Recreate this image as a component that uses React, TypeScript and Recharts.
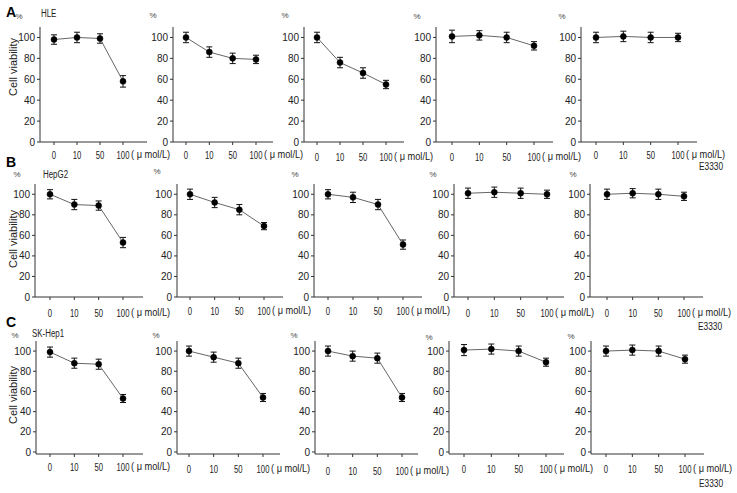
import React from 'react';
import { LineChart, Line, XAxis, YAxis, ErrorBar } from 'recharts';

// ---------- data ----------
const doses = ['0', '10', '50', '100'];
const unitLabel = '( \u03bc mol/L)';
const rowNames = ['HLE', 'HepG2', 'SK-Hep1'];
const panelLetters = ['A', 'B', 'C'];
const drugLabel = 'E3330';
const yAxisTitle = 'Cell viability';
const pctLabel = '%';
const yTicks = [0, 20, 40, 60, 80, 100];
const xTickIdx = [0, 1, 2, 3];

// HLE
const hle1 = [98, 100, 99, 58];
const hle1Err = [4.5, 5, 4.5, 5.5];
const hle2 = [100, 86, 80, 79];
const hle2Err = [5, 5, 5, 4];
const hle3 = [100, 76, 66, 55];
const hle3Err = [5, 5, 5, 4];
const hle4 = [101, 102, 100, 92];
const hle4Err = [6, 4.5, 5, 4];
const hle5 = [100, 101, 100, 100];
const hle5Err = [5, 5, 5, 4];
// HepG2
const hep1 = [100, 90, 89, 53];
const hep1Err = [4.5, 5, 4.5, 5];
const hep2 = [100, 92, 85, 69];
const hep2Err = [5, 5, 5, 3.5];
const hep3 = [100, 97, 90, 51];
const hep3Err = [4.5, 5, 5, 4.5];
const hep4 = [101, 102, 101, 100];
const hep4Err = [5, 5, 5, 4];
const hep5 = [100, 101, 100, 98];
const hep5Err = [5, 4.5, 5, 4];
// SK-Hep1
const sk1 = [99, 88, 87, 53];
const sk1Err = [5, 5, 5, 4];
const sk2 = [100, 94, 88, 54];
const sk2Err = [5, 5, 5, 4];
const sk3 = [100, 95, 93, 54];
const sk3Err = [5, 5, 5, 4];
const sk4 = [101, 102, 100, 89];
const sk4Err = [5.5, 5, 5, 4];
const sk5 = [100, 101, 100, 92];
const sk5Err = [5, 5, 5, 4];

const seriesRows = [
  [[hle1, hle1Err], [hle2, hle2Err], [hle3, hle3Err], [hle4, hle4Err], [hle5, hle5Err]],
  [[hep1, hep1Err], [hep2, hep2Err], [hep3, hep3Err], [hep4, hep4Err], [hep5, hep5Err]],
  [[sk1, sk1Err], [sk2, sk2Err], [sk3, sk3Err], [sk4, sk4Err], [sk5, sk5Err]],
];

// ---------- layout (page pixels) ----------
const rowLayout = [
  { yTop: 27, yAxis: 142, yMin: 0 },
  { yTop: 184, yAxis: 297, yMin: 0 },
  { yTop: 341, yAxis: 454, yMin: -2 },
];
// [axisX, axisEnd, firstTick, lastTick, labelGap]
const colLayout = [
  [[40, 147, 54, 123, 13], [173, 273, 186, 256, 13], [304, 404, 317, 386, 15], [436, 553, 452, 534, 15], [581, 697, 596, 678, 13]],
  [[35, 143, 50, 123, 16], [177, 283, 190, 264, 14], [314, 422, 328, 403, 14], [454, 564, 468, 547, 16], [590, 703, 607, 684, 16]],
  [[36, 143, 50, 123, 13], [177, 280, 189, 263, 15], [315, 418, 328, 402, 17], [449, 564, 464, 546, 15], [591, 704, 606, 685, 15]],
];
const pctPos = [
  [[19, 16], [153, 15], [285, 15], [417, 16], [562, 16]],
  [[17, 174], [157, 171], [295, 174], [433, 174], [573, 174]],
  [[15, 335], [156, 335], [294, 335], [429, 337], [571, 336]],
];
const letterPos = [[6, 17], [6, 167], [6, 327]];
const namePos = [[41, 17], [43, 178], [32, 337]];
const titlePos = [[13, 67], [13, 239], [13, 395]];
const drugPos = [[711, 170], [710, 330], [711, 487]];

const FONT = "'Liberation Sans', Arial, Helvetica, sans-serif";

function XTick(props: any) {
  const { x, y, payload } = props;
  const idx = payload.value;
  return (
    <g>
      <text transform={`translate(${x},${y}) scale(0.7,1)`} textAnchor="middle" dy="0.71em" fontSize={11} fill="#222">
        {doses[idx]}
      </text>
      {idx === 3 && (
        <text transform={`translate(${x + 8},${y}) scale(0.88,1)`} dy="0.71em" fontSize={10.5} fill="#222">
          {unitLabel}
        </text>
      )}
    </g>
  );
}

function Panel({ values, errs, geo, row }: any) {
  const [x0, x1, t0, t3, gap] = geo;
  const { yTop, yAxis, yMin } = row;
  const data = doses.map((d, i) => ({ i, dose: d, v: values[i], err: errs[i] }));
  const s = (t3 - t0) / 3;
  const dMin = -(t0 - x0) / s;
  const dMax = 3 + (x1 - t3) / s;
  const YW = 30, MT = 4, MR = 75, MB = 32;
  const width = YW + (x1 - x0) + MR;
  const height = MT + (yAxis - yTop) + MB;
  return (
    <div style={{ position: 'absolute', left: x0 - YW, top: yTop - MT }}>
      <LineChart width={width} height={height} data={data} margin={{ top: MT, right: MR, bottom: 0, left: 0 }}>
        <XAxis
          type="number"
          dataKey="i"
          domain={[dMin, dMax]}
          ticks={xTickIdx}
          interval={0}
          height={MB}
          tickSize={3}
          tickMargin={gap - 7}
          tick={(p: any) => <XTick {...p} />}
          axisLine={{ stroke: '#333', strokeWidth: 1 }}
          tickLine={{ stroke: '#333' }}
          allowDataOverflow
        />
        <YAxis
          type="number"
          domain={[yMin, 110]}
          ticks={yTicks}
          interval={0}
          width={YW}
          tickSize={3}
          tickMargin={2}
          tick={{ fontSize: 10, fill: '#222' }}
          axisLine={{ stroke: '#333', strokeWidth: 1 }}
          tickLine={{ stroke: '#333' }}
          allowDataOverflow
        />
        <Line
          type="linear"
          dataKey="v"
          stroke="#666"
          strokeWidth={1}
          dot={{ r: 3, fill: '#000', stroke: '#000', strokeWidth: 0.5 }}
          isAnimationActive={false}
        >
          <ErrorBar dataKey="err" width={3} stroke="#111" strokeWidth={1} direction="y" isAnimationActive={false} />
        </Line>
      </LineChart>
    </div>
  );
}

function SText({ x, y, sx = 1, anchor = 'start', size = 11, weight = 'normal', fill = '#222', rotate = 0, baseline = 'auto', children }: any) {
  return (
    <text
      transform={`translate(${x},${y})${rotate ? ` rotate(${rotate})` : ''} scale(${sx},1)`}
      textAnchor={anchor}
      fontSize={size}
      fontWeight={weight}
      fill={fill}
      dominantBaseline={baseline}
    >
      {children}
    </text>
  );
}

export default function App() {
  return (
    <div style={{ position: 'absolute', left: 0, top: 0, width: 737, height: 493, background: '#fff', fontFamily: FONT, overflow: 'hidden' }}>
      {seriesRows.map((row, r) =>
        row.map(([vals, errs], c) => (
          <Panel key={`${r}-${c}`} values={vals} errs={errs} geo={colLayout[r][c]} row={rowLayout[r]} />
        ))
      )}
      <svg width={737} height={493} style={{ position: 'absolute', left: 0, top: 0, pointerEvents: 'none' }}>
        {panelLetters.map((l, r) => (
          <SText key={`l${r}`} x={letterPos[r][0]} y={letterPos[r][1]} size={14} weight="bold" fill="#000">{l}</SText>
        ))}
        {rowNames.map((n, r) => (
          <SText key={`n${r}`} x={namePos[r][0]} y={namePos[r][1]} sx={0.72} size={11}>{n}</SText>
        ))}
        {titlePos.map((p, r) => (
          <SText key={`t${r}`} x={p[0]} y={p[1]} rotate={-90} anchor="middle" baseline="central" size={11}>{yAxisTitle}</SText>
        ))}
        {pctPos.map((row, r) =>
          row.map((p, c) => (
            <SText key={`p${r}-${c}`} x={p[0]} y={p[1]} anchor="middle" baseline="central" size={8} fill="#444">{pctLabel}</SText>
          ))
        )}
        {drugPos.map((p, r) => (
          <SText key={`d${r}`} x={p[0]} y={p[1]} sx={0.76} anchor="middle" size={11}>{drugLabel}</SText>
        ))}
      </svg>
    </div>
  );
}
